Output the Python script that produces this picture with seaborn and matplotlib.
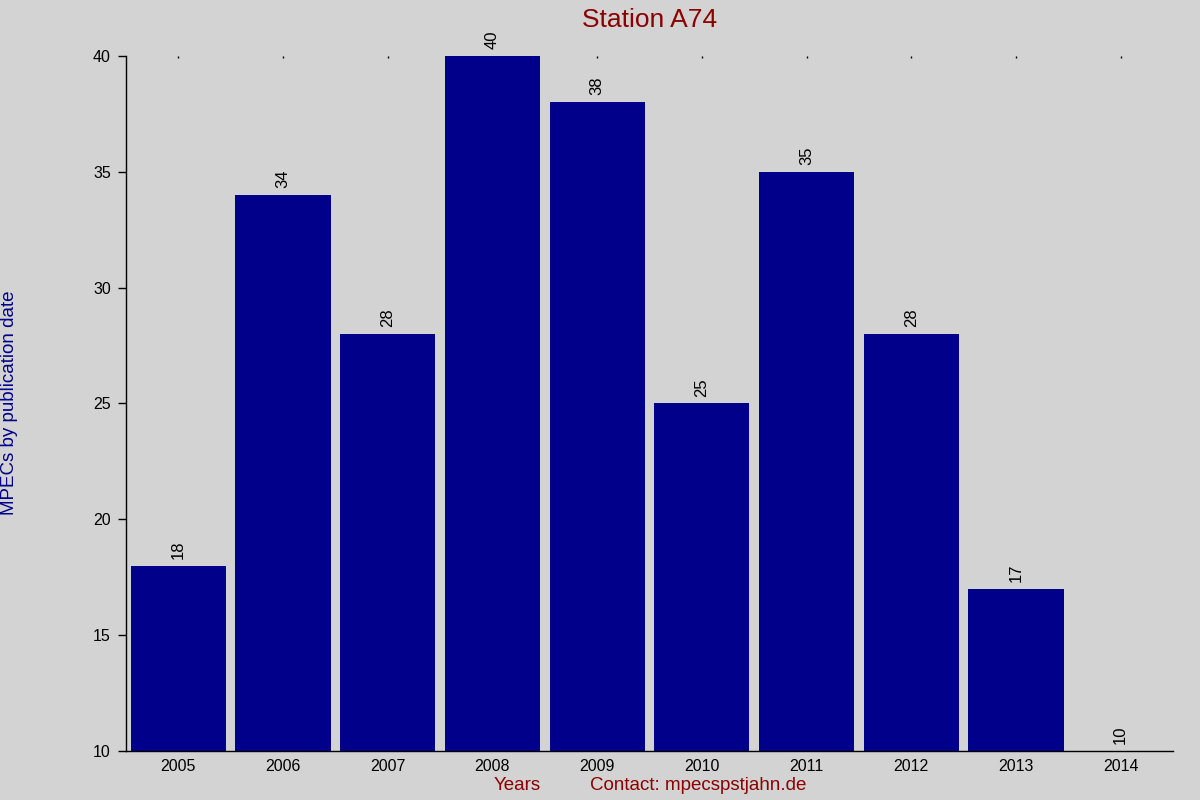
import matplotlib
matplotlib.use("Agg")
import matplotlib.pyplot as plt
import seaborn as sns
import pandas as pd

# Chart values
years = ["2005", "2006", "2007", "2008", "2009", "2010", "2011", "2012", "2013", "2014"]
counts = [18, 34, 28, 40, 38, 25, 35, 28, 17, 10]
y_ticks = [10, 15, 20, 25, 30, 35, 40]

bg = "#d3d3d3"
bar_color = "#00008b"
red = "#8b0000"

sns.set_style("ticks")
plt.rcParams["font.family"] = ["Liberation Sans", "DejaVu Sans"]
plt.rcParams["text.color"] = "black"

df = pd.DataFrame({"year": years, "count": counts})

fig = plt.figure(figsize=(12, 8), dpi=100, facecolor=bg)
ax = fig.add_axes([0.105, 0.06125, 0.8725, 0.86875])
ax.set_facecolor(bg)

sns.barplot(data=df, x="year", y="count", color=bar_color, saturation=1,
            width=0.91, linewidth=0, edgecolor=bar_color, ax=ax)

ax.set_ylim(10, 40)
ax.set_xlim(-0.5, 9.5)
ax.set_yticks(y_ticks)
ax.set_xlabel("")
ax.set_ylabel("")

# value labels above bars
ax.bar_label(ax.containers[0], rotation=90, padding=5, fontsize=12, color="black")

for side in ("top", "right"):
    ax.spines[side].set_visible(False)
for side in ("left", "bottom"):
    ax.spines[side].set_color("black")
    ax.spines[side].set_linewidth(1)

ax.tick_params(axis="y", direction="out", length=6, width=1, labelsize=11.5,
               pad=5, colors="black")
ax.tick_params(axis="x", bottom=False, top=True, direction="in", length=1.2,
               width=1, labelsize=11.5, pad=6, labelbottom=True, labeltop=False,
               colors="black")

ax.set_title("Station A74", color=red, fontsize=19, pad=21)

fig.text(10 / 1200, 1 - 403 / 800, "MPECs by publication date", rotation=90,
         color=bar_color, fontsize=13.5, ha="center", va="center")
fig.text(517 / 1200, 1 - 786 / 800, "Years", color=red, fontsize=13.5,
         ha="center", va="center")
fig.text(698 / 1200, 1 - 786 / 800, "Contact: mpecspstjahn.de", color=red,
         fontsize=13.5, ha="center", va="center")

fig.savefig("out.png", dpi=100, facecolor=bg)
